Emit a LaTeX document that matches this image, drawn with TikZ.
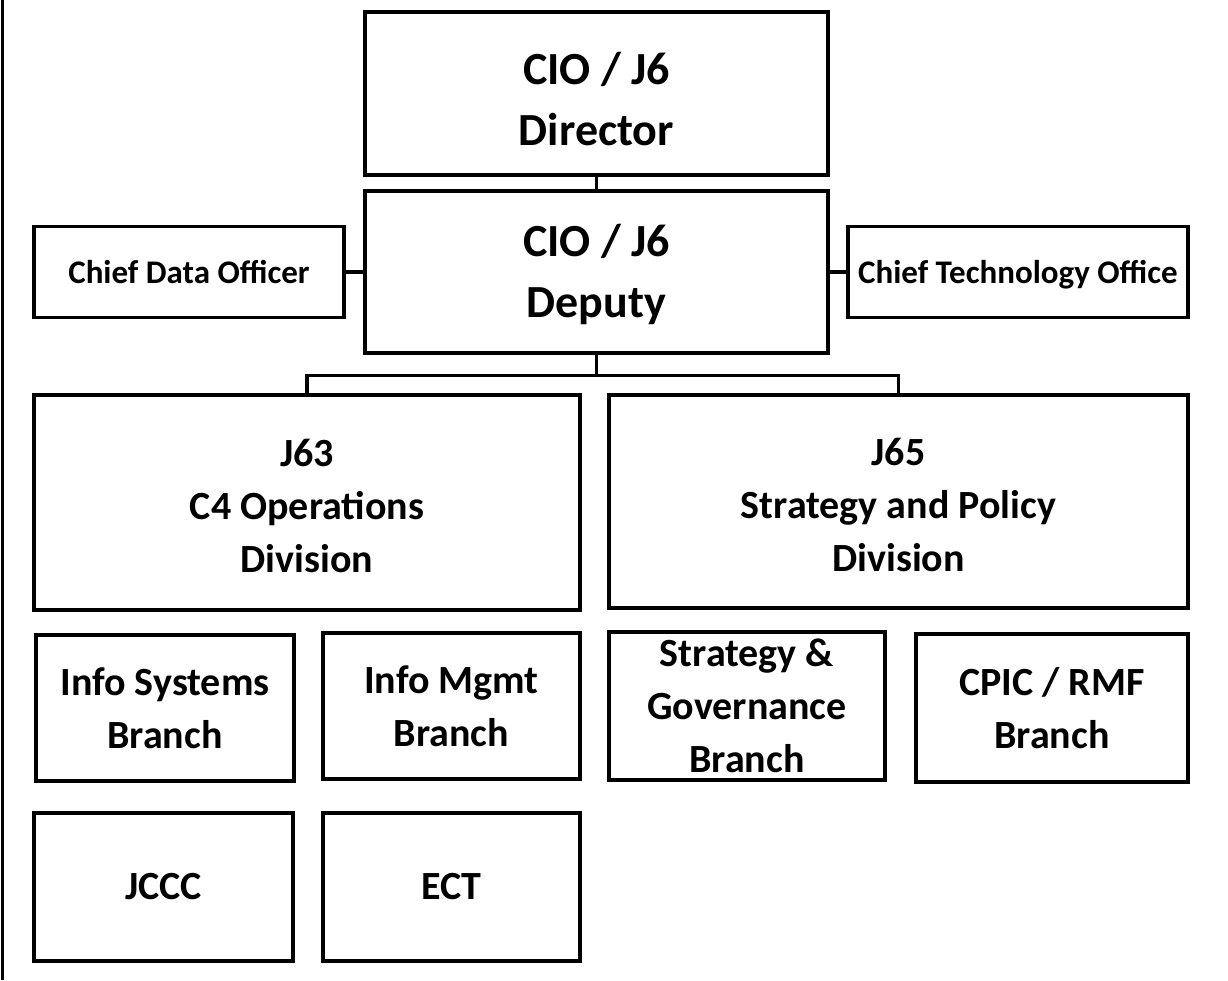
\documentclass[tikz,border=0pt]{standalone}
\usepackage{fontspec}
\setmainfont{Carlito}
\begin{document}
\begin{tikzpicture}[x=1pt,y=-1pt,
  box/.style={draw=black, line width=3.5pt, rectangle, inner sep=0pt, align=center, font=\bfseries},
  big/.style={box, font=\fontsize{46}{61}\selectfont\bfseries},
  mid/.style={box, font=\fontsize{40}{53}\selectfont\bfseries},
  small/.style={box, font=\fontsize{33}{40}\selectfont\bfseries},
  link/.style={draw=black, line width=3.2pt}]
\useasboundingbox (0,0) rectangle (1228,980);
\draw[line width=2.5pt] (2.5,0) coordinate (bt) -- (2.5,980) coordinate (bb);
% top
\node[big, minimum width=463pt, minimum height=163pt] (dir) at (596.5,93.5) {\rule{0pt}{44pt}CIO / J6\\Director};
\node[big, minimum width=463pt, minimum height=162pt] (dep) at (596.5,272) {\rule{0pt}{38pt}CIO / J6\\Deputy};
\node[small, minimum width=310pt, minimum height=91pt] (cdo) at (189,272) {Chief Data Officer};
\node[small, minimum width=340pt, minimum height=91pt] (cto) at (1018,272) {\rule{0pt}{29pt}Chief Technology Office};
% divisions
\node[mid, minimum width=546pt, minimum height=215pt] (j63) at (307,502.5) {\rule{0pt}{34pt}J63\\C4 Operations\\Division};
\node[mid, minimum width=579pt, minimum height=213pt] (j65) at (898.5,501.5) {\rule{0pt}{34pt}J65\\Strategy and Policy\\Division};
% branches
\node[mid, minimum width=258pt, minimum height=146pt] (isb) at (165,708) {Info Systems\\Branch};
\node[mid, minimum width=257pt, minimum height=146pt] (imb) at (451.5,706) {Info Mgmt\\Branch};
\node[mid, minimum width=276pt, minimum height=148pt] (sgb) at (747,706) {Strategy \&\\Governance\\Branch};
\node[mid, minimum width=272pt, minimum height=148pt] (cpic) at (1052,708) {CPIC / RMF\\Branch};
\node[mid, minimum width=259pt, minimum height=148pt] (jccc) at (163.5,887) {JCCC};
\node[mid, minimum width=257pt, minimum height=148pt] (ect) at (451.5,887) {ECT};
% connectors
\draw[link] (dir.south) -- (dep.north);
\draw[link] (dep.west) -- (cdo.east);
\draw[link] (dep.east) -- (cto.west);
\draw[link] (dep.south) -- ++(0,21) coordinate (bar) -| (j63.north);
\draw[link] (bar) -| (j65.north);
\end{tikzpicture}
\end{document}
